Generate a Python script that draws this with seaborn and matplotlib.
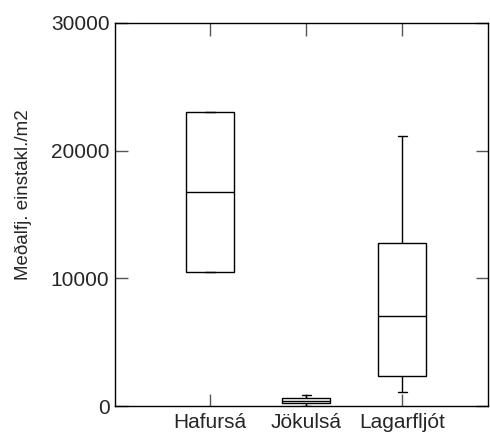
import matplotlib
matplotlib.use("Agg")
import matplotlib.pyplot as plt
import seaborn as sns
import pandas as pd

# five-number summaries (min, q1, median, q3, max)
categories = ["Hafursá", "Jökulsá", "Lagarfljót"]
hafursa = [10470, 10470, 16790, 23050, 23050]
jokulsa = [30, 210, 420, 650, 860]
lagarfljot = [1100, 2375, 7050, 12790, 21170]
yticks = [0, 10000, 20000, 30000]

df = pd.DataFrame({
    "river": [categories[0]] * len(hafursa) + [categories[1]] * len(jokulsa) + [categories[2]] * len(lagarfljot),
    "value": hafursa + jokulsa + lagarfljot,
})

sns.set_style("white")
plt.rcParams["font.family"] = ["Liberation Sans", "DejaVu Sans"]

fig = plt.figure(figsize=(4.9, 4.37), dpi=100)
ax = fig.add_axes([115 / 490, 1 - 406 / 437, (488 - 115) / 490, (406 - 23) / 437])

line = dict(color="black", linewidth=1.0)
sns.boxplot(data=df, x="river", y="value", order=categories, whis=(0, 100), width=0.5,
            ax=ax, boxprops=dict(facecolor="white", edgecolor="black", linewidth=1.0),
            medianprops=line, whiskerprops=line, capprops=line, showfliers=False,
            capwidths=0.1)

ax.set_xlim(-0.99, 2.89)
ax.set_ylim(0, 30000)
ax.set_yticks(yticks)
ax.set_yticklabels([str(v) for v in yticks])
ax.set_xlabel("")
ax.set_ylabel("Meðalfj. einstakl./m2", fontsize=13.5)
ax.yaxis.set_label_coords(-0.222, 0.551)
ax.tick_params(axis="both", direction="in", length=9, width=1, color="#555555",
               labelsize=15, top=True, right=True, bottom=True, left=True, pad=4)
ax.tick_params(axis="x", labelsize=15, pad=5)
for s in ax.spines.values():
    s.set_visible(True)
    s.set_color("black")
    s.set_linewidth(1.0)

fig.savefig("out.png", dpi=100)
